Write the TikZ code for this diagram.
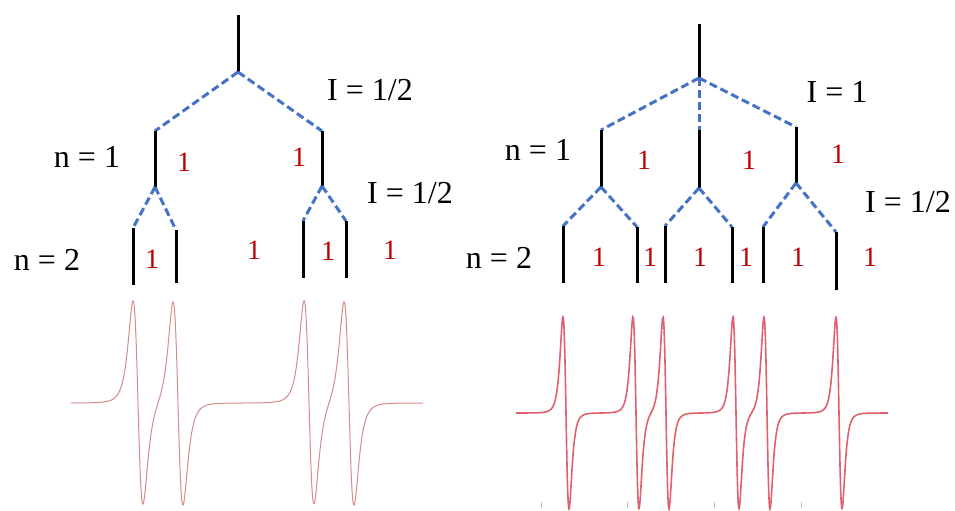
\documentclass[tikz,border=0pt]{standalone}
\usepackage{fontspec}
\setmainfont{Liberation Serif}
\definecolor{splitblue}{HTML}{4472C4}
\definecolor{numred}{HTML}{C00000}
\definecolor{eprthin}{HTML}{D98A8A}
\definecolor{eprthick}{HTML}{E0606E}

\begin{document}
\begin{tikzpicture}[x=0.5pt, y=-0.5pt,
  stem/.style={line width=1.5pt, black},
  split/.style={line width=1.5pt, splitblue, dash pattern=on 4pt off 2pt},
  lbl/.style={font=\fontsize{16}{18}\selectfont, inner sep=0pt},
  num/.style={font=\fontsize{14}{16}\selectfont, text=numred, inner sep=0pt},
  declare function={lor(\u)=\u/(1+\u*\u)/(1+\u*\u)/(1+\u*\u);}]
\useasboundingbox (0,0) rectangle (955,510);

% two nuclei, I = 1/2
\begin{scope}
\coordinate (a0) at (238,15);
\coordinate (a1) at (238,72);
\coordinate (a2) at (155,131);
\coordinate (a3) at (155,187);
\coordinate (a4) at (322,131);
\coordinate (a5) at (322,186);
\coordinate (a6) at (133,228);  \coordinate (a7) at (133,285);
\coordinate (a8) at (176,230);  \coordinate (a9) at (176,283);
\coordinate (a10) at (303,221); \coordinate (a11) at (303,278);
\coordinate (a12) at (346,221); \coordinate (a13) at (346,278);
\draw[stem] (a0) -- (a1);
\draw[split] (a1) -- (a2);
\draw[split] (a1) -- (a4);
\draw[stem] (a2) -- (a3);
\draw[stem] (a4) -- (a5);
\draw[split] (a3) -- (a6);
\draw[split] (a3) -- (a8);
\draw[split] (a5) -- (a10);
\draw[split] (a5) -- (a12);
\draw[stem] (a6) -- (a7);
\draw[stem] (a8) -- (a9);
\draw[stem] (a10) -- (a11);
\draw[stem] (a12) -- (a13);
\node[lbl] (iA) at (370,90) {I = 1/2};
\node[lbl] (nA) at (87,157) {n = 1};
\node[lbl] (iB) at (410,193) {I = 1/2};
\node[lbl] (nB) at (47,260) {n = 2};
\node[num] (ra1) at (184,162) {1};
\node[num] (ra2) at (299,157) {1};
\node[num] (rb1) at (152,259) {1};
\node[num] (rb2) at (254,250) {1};
\node[num] (rb3) at (328,251) {1};
\node[num] (rb4) at (390,250) {1};
\draw[eprthin, line width=0.5pt] plot[domain=71:423, samples=700]
  (\x, {403+394*(lor((\x-138)/11)+lor((\x-178)/11)+lor((\x-309)/11)+lor((\x-349)/11))});
\end{scope}

% I = 1 and I = 1/2
\begin{scope}
\coordinate (b0) at (699,24);
\coordinate (b1) at (699,78);
\coordinate (b2) at (601,130); \coordinate (b3) at (601,187);
\coordinate (b4) at (699,130); \coordinate (b5) at (699,188);
\coordinate (b6) at (796,127); \coordinate (b7) at (796,183);
\coordinate (c1) at (563,226); \coordinate (d1) at (563,283);
\coordinate (c2) at (637,227); \coordinate (d2) at (637,283);
\coordinate (c3) at (665,226); \coordinate (d3) at (665,283);
\coordinate (c4) at (732,227); \coordinate (d4) at (732,283);
\coordinate (c5) at (763,227); \coordinate (d5) at (763,283);
\coordinate (c6) at (836,232); \coordinate (d6) at (836,290);
\draw[stem] (b0) -- (b1);
\draw[split] (b1) -- (b2);
\draw[split] (b1) -- (b4);
\draw[split] (b1) -- (b6);
\draw[stem] (b2) -- (b3);
\draw[stem] (b4) -- (b5);
\draw[stem] (b6) -- (b7);
\draw[split] (b3) -- (c1);
\draw[split] (b3) -- (c2);
\draw[split] (b5) -- (c3);
\draw[split] (b5) -- (c4);
\draw[split] (b7) -- (c5);
\draw[split] (b7) -- (c6);
\foreach \k in {1,...,6}
  \draw[stem] (c\k) -- (d\k);
\node[lbl] (iC) at (837,92) {I = 1};
\node[lbl] (nC) at (538,150) {n = 1};
\node[lbl] (iD) at (908,202) {I = 1/2};
\node[lbl] (nD) at (499,258) {n = 2};
\node[num] (rc1) at (644,160) {1};
\node[num] (rc2) at (749,160) {1};
\node[num] (rc3) at (838,154) {1};
\node[num] (rd1) at (599,257) {1};
\node[num] (rd2) at (650,257) {1};
\node[num] (rd3) at (700,257) {1};
\node[num] (rd4) at (746,257) {1};
\node[num] (rd5) at (798,257) {1};
\node[num] (rd6) at (870,257) {1};
\draw[eprthick, line width=0.8pt] plot[domain=516:888, samples=1000]
  (\x, {413+371*(lor((\x-566)/6.7)+lor((\x-636)/6.7)+lor((\x-666)/6.7)+lor((\x-736)/6.7)+lor((\x-767)/6.7)+lor((\x-839)/6.7))});
\foreach \t in {541,627,714,801}
  \draw[gray!50, line width=0.5pt] (\t,502) -- (\t,508);
\end{scope}
\end{tikzpicture}
\end{document}
